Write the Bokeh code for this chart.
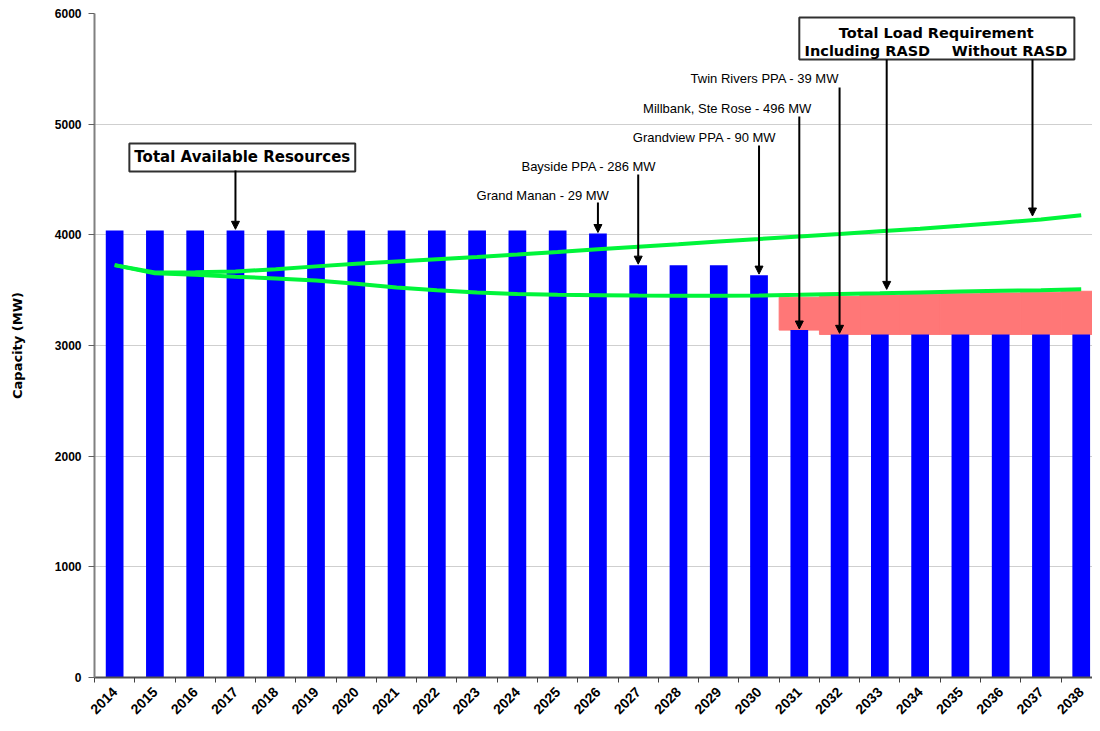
from math import pi
from bokeh.plotting import figure
from bokeh.models import Range1d, FixedTicker, Label, Arrow, NormalHead, BoxAnnotation
from bokeh.embed import file_html
from bokeh.resources import INLINE

# ---------------- data ----------------
years = list(range(2014, 2039))
year_labels = [str(y) for y in years]
capacity = [4040, 4040, 4040, 4040, 4040, 4040, 4040, 4040, 4040, 4040, 4040, 4040,
            4011, 3725, 3725, 3725, 3635, 3139, 3100, 3100, 3100, 3100, 3100, 3100, 3100]
load_without_rasd = [3726, 3660, 3662, 3668, 3690, 3715, 3738, 3760, 3780, 3800, 3822, 3845,
                     3870, 3893, 3916, 3940, 3962, 3985, 4008, 4032, 4056, 4082, 4110, 4138, 4177]
load_including_rasd = [3726, 3652, 3640, 3622, 3606, 3587, 3557, 3525, 3500, 3480, 3465, 3458,
                       3455, 3452, 3450, 3450, 3452, 3458, 3465, 3472, 3480, 3487, 3494, 3500, 3508]
deficit_years = [2031, 2032, 2033, 2034, 2035, 2036, 2037, 2038]
deficit_top = [3436, 3444, 3452, 3460, 3468, 3475, 3482, 3490]
y_ticks = [0, 1000, 2000, 3000, 4000, 5000, 6000]

annotations = [  # text, year of arrow
    ("Grand Manan  - 29 MW", 2026),
    ("Bayside PPA - 286 MW", 2027),
    ("Grandview PPA - 90 MW", 2030),
    ("Millbank, Ste Rose - 496 MW", 2031),
    ("Twin Rivers PPA - 39 MW", 2032),
]

# ---------------- figure ----------------
p = figure(width=1092, height=723,
           x_range=Range1d(2013.5, 2038.28), y_range=Range1d(0, 6000),
           output_backend="svg", toolbar_location=None,
           min_border_left=94, min_border_right=0, min_border_top=13, min_border_bottom=46)
p.outline_line_color = None
p.background_fill_color = "white"

deficit_bottom = [capacity[years.index(y)] for y in deficit_years]
p.vbar(x=deficit_years, bottom=deficit_bottom, top=deficit_top, width=1.0,
       fill_color="#FF7777", line_color="#FF7777", line_width=1)
p.vbar(x=years, top=capacity, width=0.44, fill_color="#0000FF", line_color=None)
p.line(years, load_including_rasd, line_color="#00F53A", line_width=4)
p.line(years, load_without_rasd, line_color="#00F53A", line_width=4)

# axes
xa = p.xaxis[0]
xa.ticker = FixedTicker(ticks=years, minor_ticks=[y - 0.5 for y in years] + [2038.5])
xa.major_label_overrides = {y: s for y, s in zip(years, year_labels)}
xa.major_label_orientation = pi / 4
xa.major_tick_line_color = None
xa.major_tick_out = 0
xa.major_tick_in = 0
xa.minor_tick_line_color = "#404040"
xa.minor_tick_out = 5
xa.minor_tick_in = 0
xa.axis_line_color = "#505050"
xa.axis_line_width = 2
xa.major_label_text_font = "Liberation Sans"
xa.major_label_text_font_style = "bold"
xa.major_label_text_font_size = "14px"
xa.major_label_text_color = "black"
xa.major_label_standoff = 7

ya = p.yaxis[0]
ya.ticker = FixedTicker(ticks=y_ticks)
ya.major_tick_out = 6
ya.major_tick_in = 0
ya.major_tick_line_color = "#606060"
ya.minor_tick_line_color = None
ya.axis_line_color = "#808080"
ya.axis_line_width = 2
ya.major_label_text_font = "Liberation Sans"
ya.major_label_text_font_style = "bold"
ya.major_label_text_font_size = "12px"
ya.major_label_text_color = "black"
ya.major_label_standoff = 7
ya.axis_label = "Capacity (MW)"
ya.axis_label_text_font = "DejaVu Sans"
ya.axis_label_text_font_style = "bold"
ya.axis_label_text_font_size = "13px"
ya.axis_label_text_color = "black"
ya.axis_label_standoff = 27

p.xgrid.grid_line_color = None
p.ygrid.ticker = FixedTicker(ticks=y_ticks)
p.ygrid.grid_line_color = "#CFCFCF"
p.ygrid.grid_line_width = 1

def arrow(x0, y0, x1, y1):
    p.add_layout(Arrow(end=NormalHead(size=8, fill_color="black", line_color="black"),
                       x_start=x0, y_start=y0, x_end=x1, y_end=y1,
                       line_color="black", line_width=2))

# small resource annotations
text_x = [2026.36, 2027.45, 2030.43, 2031.30, 2031.99]
text_y = [4355, 4617, 4880, 5141, 5413]
arrow_start = [4292, 4545, 4807, 5069, 5331]
for (txt, yr), tx, ty, ay in zip(annotations, text_x, text_y, arrow_start):
    p.add_layout(Label(x=tx, y=ty, text=txt, text_align="right", text_baseline="middle",
                       text_font="Liberation Sans", text_font_size="13px", text_color="black"))
    arrow(yr, ay, yr, capacity[years.index(yr)] + 10)

# Total Available Resources
p.add_layout(Label(x=2017.17, y=4699, text="Total Available Resources", text_align="center",
                   text_baseline="middle", text_font="DejaVu Sans", text_font_style="bold",
                   text_font_size="15px", text_color="black",
                   background_fill_color="white", border_line_color="#303030",
                   border_line_width=2, padding=5))
arrow(2017, 4581, 2017, capacity[years.index(2017)] + 10)

# Total Load Requirement box
p.add_layout(BoxAnnotation(left=2031.0, right=2037.83, bottom=5584, top=5964,
                           fill_color="white", fill_alpha=1.0,
                           line_color="#303030", line_width=2, line_alpha=1.0))
for txt, x, y in [("Total Load Requirement", 2034.40, 5828),
                  ("Including RASD", 2032.69, 5665),
                  ("Without RASD", 2036.22, 5665)]:
    p.add_layout(Label(x=x, y=y, text=txt, text_align="center", text_baseline="middle",
                       text_font="DejaVu Sans", text_font_style="bold",
                       text_font_size="14.5px", text_color="black"))
arrow(2033.17, 5584, 2033.17, load_including_rasd[years.index(2033)] + 35)
arrow(2036.79, 5584, 2036.79, load_without_rasd[years.index(2036)] + 60)

open("out.html", "w").write(file_html(p, INLINE))
